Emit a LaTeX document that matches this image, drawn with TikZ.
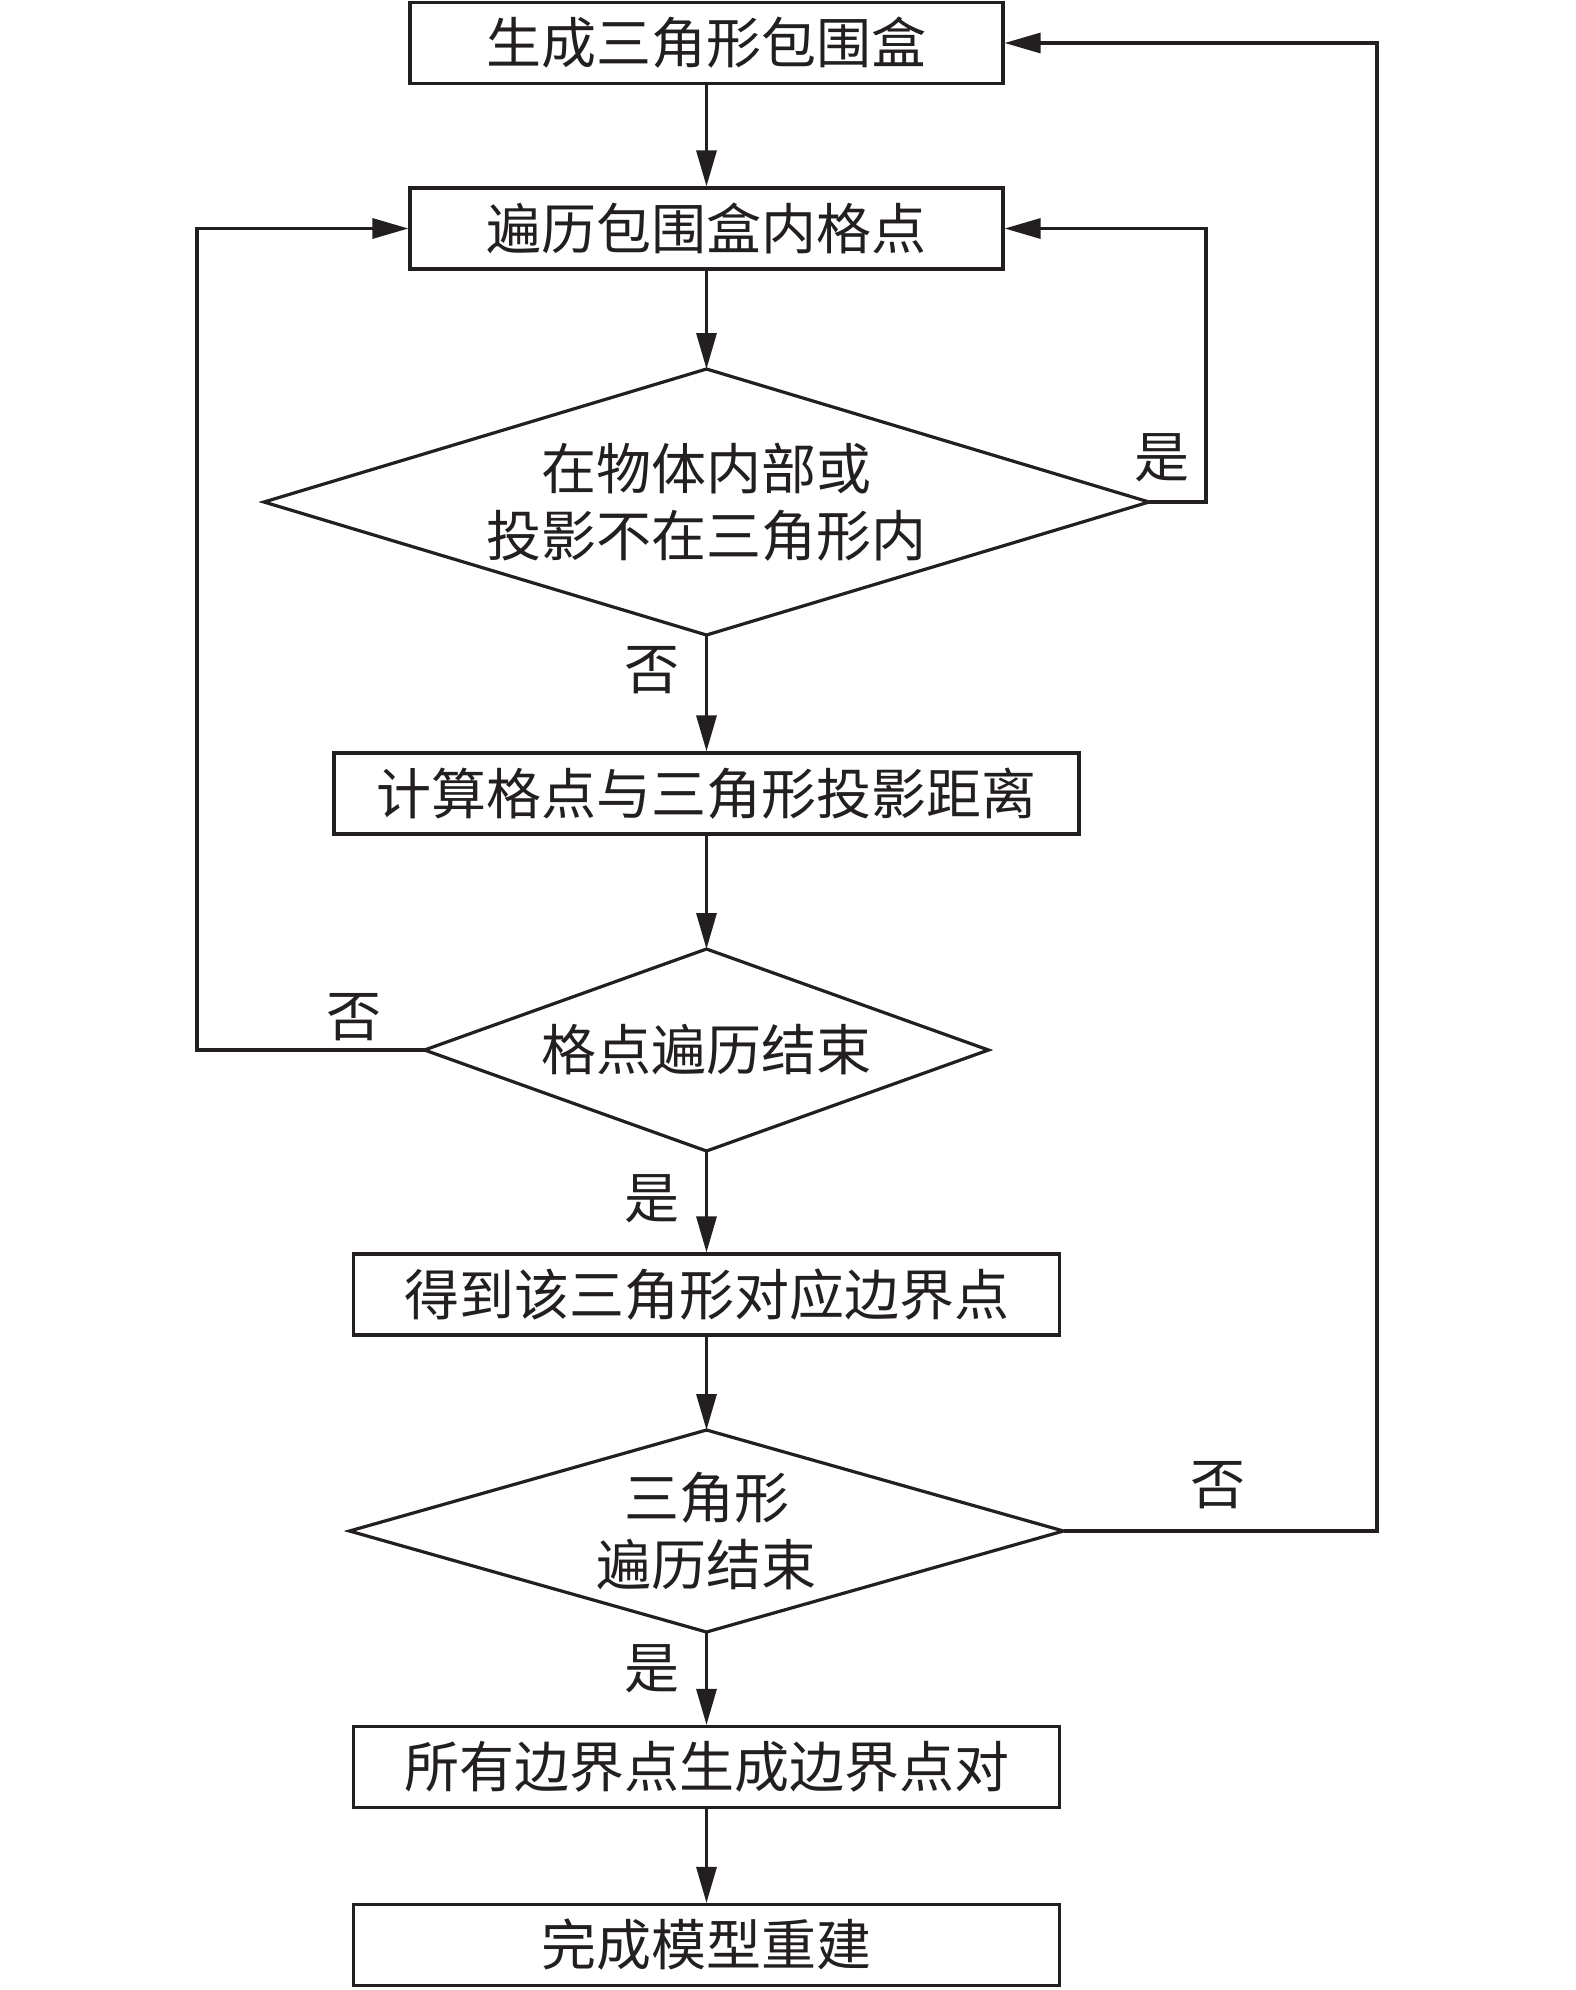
\documentclass[tikz,border=0pt]{standalone}
\usepackage{fontspec}
\newfontfamily\cjk{Noto Sans CJK SC}
\usetikzlibrary{shapes.geometric,arrows.meta}
\definecolor{ink}{HTML}{231F20}
\begin{document}
\begin{tikzpicture}[x=1pt,y=-1pt,
  every node/.style={font=\cjk\fontsize{55pt}{67pt}\selectfont, text=ink},
  procbox/.style={draw=ink, line width=3.2pt, rectangle, inner sep=0pt, minimum height=81pt},
  decide/.style={draw=ink, line width=3.2pt, diamond, inner sep=0pt, outer sep=0pt},
  dtext/.style={align=center, inner sep=0pt},
  flow/.style={draw=ink, line width=3.2pt, -{Triangle[length=36pt,width=20pt]}},
  edge/.style={draw=ink, line width=3.2pt}]
\useasboundingbox (0,0) rectangle (1575,1990);
\node[procbox, minimum width=593pt] (b1) at (706.5,43) {生成三角形包围盒};
\node[procbox, minimum width=593pt] (b2) at (706.5,228.5) {遍历包围盒内格点};
\node[decide, minimum width=885pt, minimum height=266pt] (d1) at (706.5,502) {};
\node[dtext] (d1t) at (d1.center) {在物体内部或\\投影不在三角形内};
\node[procbox, minimum width=745pt] (b3) at (706.5,793.5) {计算格点与三角形投影距离};
\node[decide, minimum width=564pt, minimum height=202pt] (d2) at (706.5,1050) {};
\node[dtext] (d2t) at (d2.center) {格点遍历结束};
\node[procbox, minimum width=706pt] (b4) at (706.5,1294.5) {得到该三角形对应边界点};
\node[decide, minimum width=714pt, minimum height=202pt] (d3) at (706.5,1531) {};
\node[dtext] (d3t) at (d3.center) {三角形\\遍历结束};
\node[procbox, minimum width=706pt] (b5) at (706.5,1767) {所有边界点生成边界点对};
\node[procbox, minimum width=706pt] (b6) at (706.5,1945) {完成模型重建};

\coordinate (r1) at (1206,0);
\coordinate (l1) at (197,0);
\coordinate (r2) at (1377,0);

\draw[flow] (b1) -- (b2);
\draw[flow] (b2) -- (d1);
\draw[flow] (d1) -- (b3);
\draw[flow] (b3) -- (d2);
\draw[flow] (d2) -- (b4);
\draw[flow] (b4) -- (d3);
\draw[flow] (d3) -- (b5);
\draw[flow] (b5) -- (b6);

\draw[flow] (d1.east) -- (d1.east -| r1) -- (b2.east -| r1) -- (b2.east);
\draw[flow] (d2.west) -- (d2.west -| l1) -- (b2.west -| l1) -- (b2.west);
\draw[flow] (d3.east) -- (d3.east -| r2) -- (b1.east -| r2) -- (b1.east);

\node (t1) at (1162,458) {是};
\node (t2) at (652,670) {否};
\node (t3) at (354,1017) {否};
\node (t4) at (652,1199) {是};
\node (t5) at (1218,1485) {否};
\node (t6) at (652,1669) {是};
\end{tikzpicture}
\end{document}
